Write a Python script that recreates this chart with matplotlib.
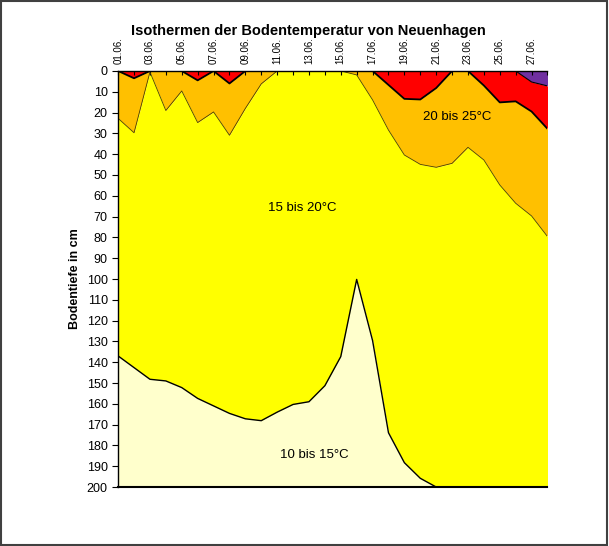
import numpy as np
import matplotlib
matplotlib.use('Agg')
import matplotlib.pyplot as plt
from matplotlib.patches import Rectangle

plt.rcParams['font.family'] = ['Liberation Sans', 'DejaVu Sans']

# Tage im Juni
tage = list(range(1, 29))
tag_labels = [f'{t:02d}.06.' for t in tage]

# Tiefe der Isothermen in cm
tiefe_30 = [0, 0, 0, 0, 0, 0, 0, 0, 0, 0, 0, 0, 0, 0,
            0, 0, 0, 0, 0, 0, 0, 0, 0, 0, 0, 0, 5.3, 7.2]
tiefe_25 = [0, 3.5, 0, 0, 0, 4.5, 0, 6, 0, 0, 0, 0, 0, 0,
            0, 0, 0, 6.7, 13.4, 13.7, 8.2, 0, 0, 7, 15.1, 14.6, 19.5, 27.8]
tiefe_20 = [22.8, 29.7, 0.5, 19, 9.6, 24.8, 19.7, 30.9, 18, 6.2, 0, 0, 0, 0,
            0, 1.9, 13.9, 28.4, 40.4, 44.9, 46.3, 44.4, 36.7, 42.8, 54.8, 63.6, 69.7, 79.6]
tiefe_15 = [137, 142.6, 148.2, 149, 152.2, 157.4, 161, 164.6, 167.2, 168.1, 164, 160.3, 159, 151.3,
            137.3, 100.2, 129.6, 173.9, 188.3, 195.8, 200, 200, 200, 200, 200, 200, 200, 200]
max_tiefe = 200

fig = plt.figure(figsize=(6.09, 5.46), dpi=100)
ax = fig.add_axes([0.194, 0.108, 0.705, 0.762])

x = np.array(tage)
ax.fill_between(x, 0, tiefe_30, color='#7030A0', lw=0)
ax.fill_between(x, tiefe_30, tiefe_25, color='#FF0000', lw=0)
ax.fill_between(x, tiefe_25, tiefe_20, color='#FFC000', lw=0)
ax.fill_between(x, tiefe_20, tiefe_15, color='#FFFF00', lw=0)
ax.fill_between(x, tiefe_15, max_tiefe, color='#FFFFCC', lw=0)

ax.plot(x, tiefe_30, color='black', lw=0.8)
ax.plot(x, tiefe_25, color='black', lw=1.3)
ax.plot(x, tiefe_20, color='#4a4000', lw=0.6)
ax.plot(x, tiefe_15, color='black', lw=1.0)

ax.set_xlim(1, 28)
ax.set_ylim(max_tiefe, 0)
ax.set_yticks(range(0, 201, 10))
ax.tick_params(axis='y', labelsize=9, length=4, width=0.8)

ax.xaxis.tick_top()
ax.set_xticks(tage)
ax.set_xticklabels([l if i % 2 == 0 else '' for i, l in enumerate(tag_labels)],
                   rotation=90, fontsize=7)
ax.tick_params(axis='x', direction='in', length=3, width=0.8, pad=5)

ax.spines['right'].set_visible(False)
for s in ['left', 'top']:
    ax.spines[s].set_linewidth(1.0)
ax.spines['bottom'].set_linewidth(1.5)

ax.set_ylabel('Bodentiefe in cm', fontsize=9, fontweight='bold', labelpad=4)

ax.text(12.6, 66, '15 bis 20°C', fontsize=9.5, ha='center', va='center')
ax.text(22.3, 22, '20 bis 25°C', fontsize=9.5, ha='center', va='center')
ax.text(13.35, 184.6, '10 bis 15°C', fontsize=9.5, ha='center', va='center')

fig.text(0.506, 0.944, 'Isothermen der Bodentemperatur von Neuenhagen',
         fontsize=10.5, fontweight='bold', ha='center', va='center')

fig.patches.append(Rectangle((0.002, 0.002), 0.995, 0.996, transform=fig.transFigure,
                             fill=False, edgecolor='#404040', lw=1.5))

fig.savefig('out.png', dpi=100)
